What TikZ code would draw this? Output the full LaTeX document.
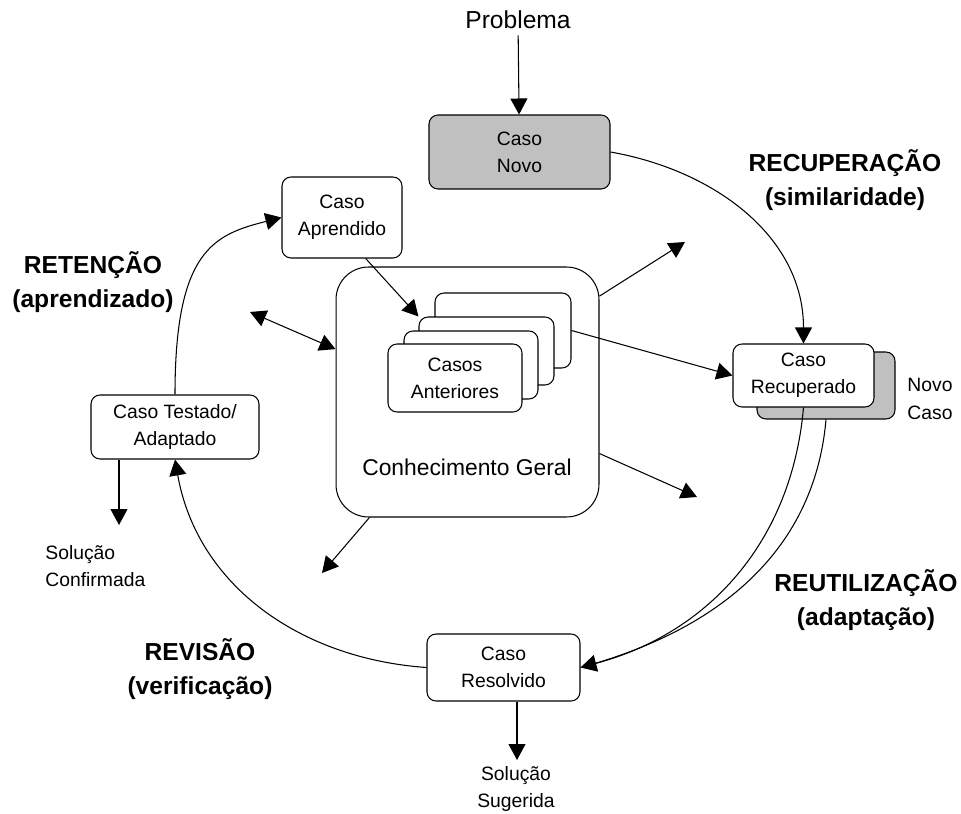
\documentclass[tikz,border=0pt]{standalone}
\usepackage{fontspec}
\setmainfont{Liberation Sans}
\usetikzlibrary{positioning,shapes,arrows.meta,calc}

\definecolor{casogray}{RGB}{192,192,192}
\tikzset{
  caso/.style={draw,rectangle,rounded corners=0.18cm,fill=white,align=center,inner sep=0pt,
    font=\fontsize{11}{15.5}\selectfont},
  fase/.style={align=center,font=\fontsize{14}{19}\selectfont\bfseries},
  nota/.style={align=center,font=\fontsize{11}{15.5}\selectfont},
  seta/.style={-{Triangle[length=0.32cm,width=0.34cm]}},
  seta2/.style={{Triangle[length=0.32cm,width=0.34cm]}-{Triangle[length=0.32cm,width=0.34cm]}},
}

\begin{document}
\begin{tikzpicture}[x=0.02cm,y=0.02cm,line width=0.6pt]
  \useasboundingbox (0,0) rectangle (961,-814);

  % casos do ciclo
  \node[font=\fontsize{14}{16}\selectfont] (prob) at (518,-20) {Problema};
  \node[caso,fill=casogray,minimum width=3.62cm,minimum height=1.48cm] (novo) at (519.5,-152) {Caso\\Novo};
  \node[caso,fill=casogray,minimum width=2.76cm,minimum height=1.34cm] (recupsh) at (826,-385.5) {};
  \node[caso,minimum width=2.82cm,minimum height=1.26cm] (recup) at (803.5,-375.5) {Caso\\Recuperado};
  \node[nota] (nc) at (930,-399) {Novo\\Caso};
  \node[caso,minimum width=3.06cm,minimum height=1.34cm] (resolv) at (503.5,-667.5) {Caso\\Resolvido};
  \node[caso,minimum width=3.36cm,minimum height=1.28cm] (testado) at (175,-427) {Caso Testado/\\Adaptado};
  \node[caso,minimum width=2.4cm,minimum height=1.62cm] (aprend) at (342,-217.5) {Caso\\Aprendido};

  % base de casos
  \node[draw,rectangle,rounded corners=0.65cm,fill=white,minimum width=5.26cm,minimum height=5cm] (geral) at (467.5,-392) {};
  \node[font=\fontsize{13}{15}\selectfont] (geraltxt) at (467,-467) {Conhecimento Geral};
  \node[caso,minimum width=2.72cm,minimum height=1.5cm] (c4) at (503,-330.5) {};
  \node[caso,minimum width=2.7cm,minimum height=1.36cm] (c3) at (486.5,-351) {};
  \node[caso,minimum width=2.68cm,minimum height=1.36cm] (c2) at (471,-365) {};
  \node[caso,minimum width=2.68cm,minimum height=1.36cm] (c1) at (455,-378) {Casos\\Anteriores};

  % saidas
  \node[nota,align=left,anchor=west] (conf) at (39,-566) {Solução\\Confirmada};
  \node[nota] (sug) at (516,-789) {Solução\\Sugerida};

  % fases
  \node[fase] (recfase) at (845,-180) {RECUPERAÇÃO\\(similaridade)};
  \node[fase] (reufase) at (866,-600) {REUTILIZAÇÃO\\(adaptação)};
  \node[fase] (revfase) at (200,-669) {REVISÃO\\(verificação)};
  \node[fase] (retfase) at (93,-282) {RETENÇÃO\\(aprendizado)};

  % ciclo
  \draw[seta] (prob) -- (novo);
  \draw[seta] (novo.east) to[out=-10,in=90] (recup.north);
  \draw (recupsh.south) to[out=-95,in=15] (resolv.east);
  \draw[seta] (recup.south) to[out=-95,in=15] (resolv.east);
  \draw[seta] (resolv.west) to[out=176,in=-80] (testado.south);
  \draw[seta] (testado.north) .. controls +(0,145) and +(-67,-17) .. (aprend.west);
  \draw[seta] (aprend.-60) -- (c3.north west);
  \draw[seta] (c4.east) -- (recup.west);

  \coordinate (confarr) at (119,-525);
  \coordinate (sugarr) at (517,-760);
  \draw[seta] (testado.south -| confarr) -- (confarr);
  \draw[seta] (resolv.south -| sugarr) -- (sugarr);

  % conhecimento geral
  \coordinate (k1) at (250,-312);
  \coordinate (k2) at (685,-242);
  \coordinate (k3) at (697,-497);
  \coordinate (k4) at (322,-573);
  \draw[seta2] (k1) -- (geral.162);
  \draw[seta] (geral.36) -- (k2);
  \draw[seta] (geral.-25) -- (k3);
  \draw[seta] (geral.232) -- (k4);
\end{tikzpicture}
\end{document}
